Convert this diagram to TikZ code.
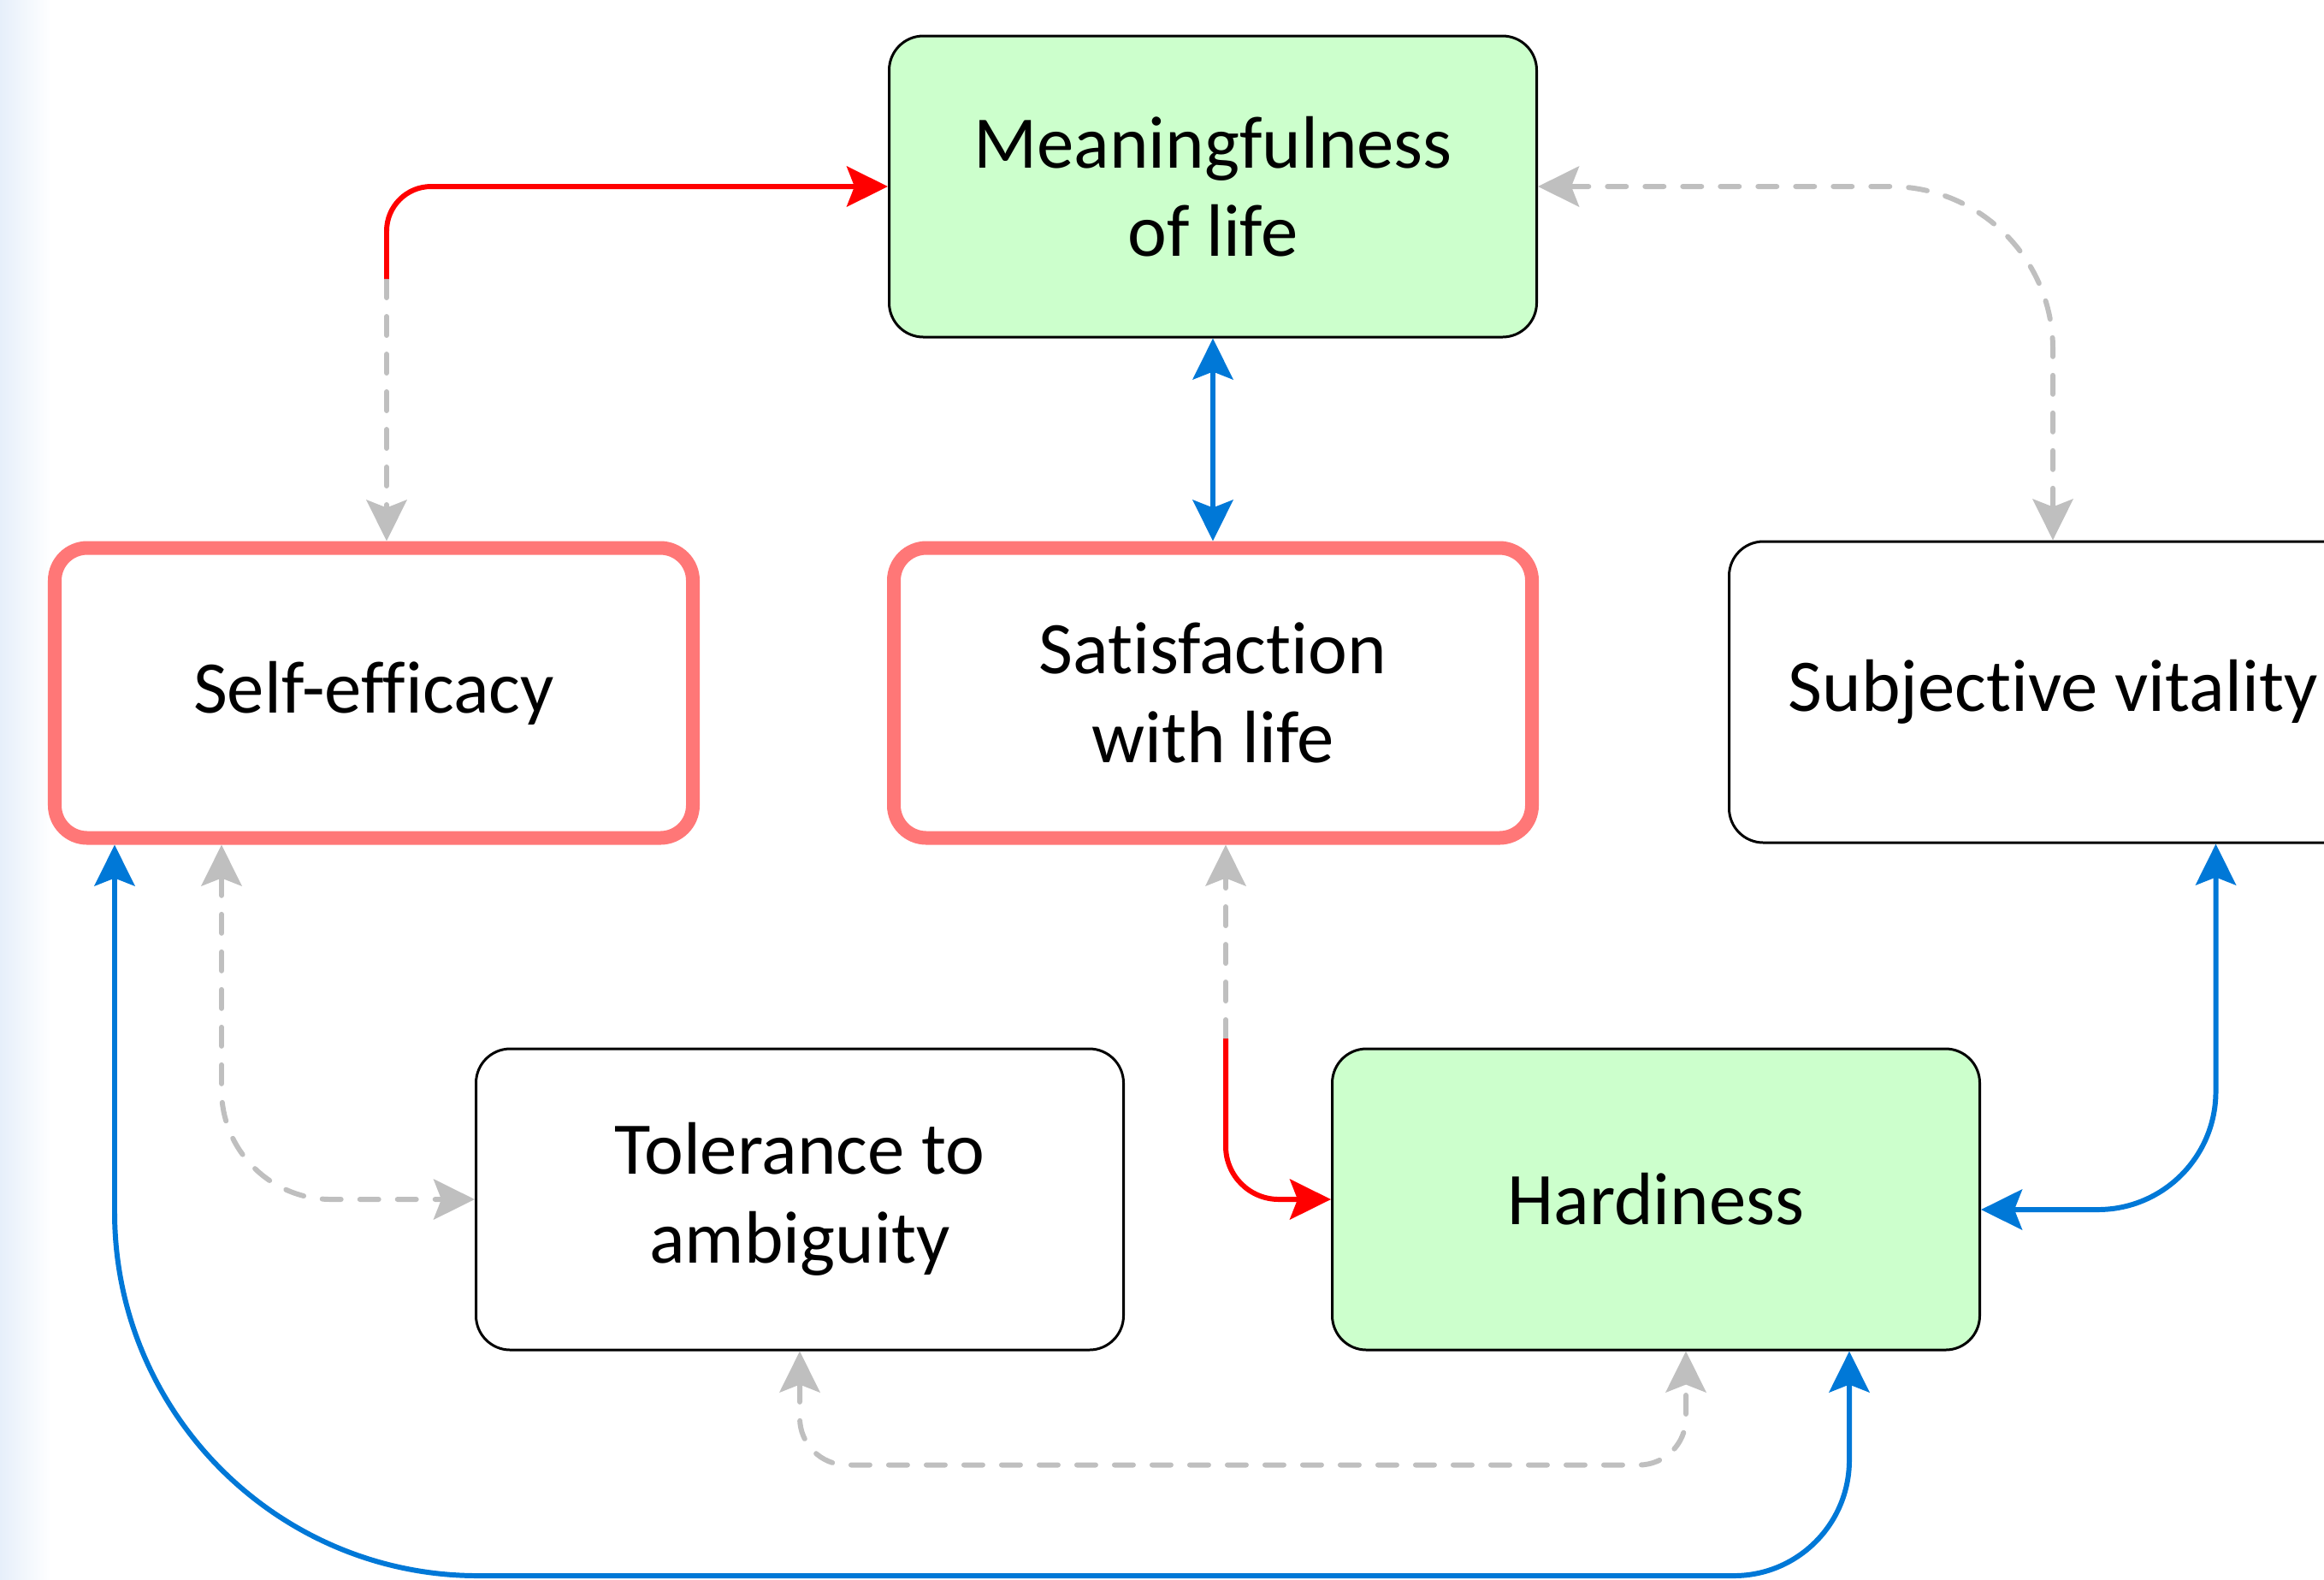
\documentclass[tikz,border=0pt]{standalone}
\usepackage{fontspec}
\setmainfont{Carlito}[RawFeature={-liga;-clig;-calt;-dlig}]
\usetikzlibrary{arrows.meta}

\definecolor{boxgreen}{HTML}{CCFFCC}
\definecolor{boxpink}{HTML}{FF7777}
\definecolor{linkblue}{HTML}{0078D7}
\definecolor{linkred}{HTML}{FF0000}
\definecolor{linkgray}{HTML}{BFBFBF}
\definecolor{edgeblue}{HTML}{E6EFFA}

\tikzset{
  box/.style={draw=black, line width=0.85pt, rounded corners=0.4cm, minimum width=7.57cm,
    minimum height=3.52cm, align=center, inner sep=0pt, font=\fontsize{24.7}{29.5}\selectfont},
  hotbox/.style={box, draw=boxpink, line width=0.16cm, minimum width=7.46cm,
    minimum height=3.39cm, rounded corners=0.38cm},
  keybox/.style={box, fill=boxgreen},
  conn/.style={line width=1.7pt, >={Stealth[length=4.8mm,width=4.7mm,inset=0.9mm]}},
  blueconn/.style={conn, draw=linkblue},
  redconn/.style={conn, draw=linkred},
  grayconn/.style={conn, draw=linkgray, dash pattern=on 0.22cm off 0.22cm, line cap=round},
}

\begin{document}
\begin{tikzpicture}
	\useasboundingbox (0,0) rectangle (27.17,-18.46);
	\clip (0,0) rectangle (27.17,-18.46);
	\shade[left color=edgeblue, right color=white] (0,0) rectangle (0.6,-18.46);

	% boxes
	\node[keybox] (mean) at (14.18,-2.18) {Meaningfulness\\of life};
	\node[hotbox] (self) at (4.37,-8.10) {Self-efficacy};
	\node[hotbox] (sat) at (14.18,-8.10) {Satisfaction\\with life};
	\node[box] (vit) at (24.00,-8.09) {Subjective vitality};
	\node[box] (tol) at (9.35,-14.02) {Tolerance to\\ambiguity};
	\node[keybox] (hard) at (19.36,-14.02) {Hardiness};

	% links
	\coordinate (redA) at (4.52,-3.26);
	\draw[grayconn,->] (redA) -- (self.north -| redA);
	\draw[redconn,->,rounded corners=0.52cm] (redA) |- (mean.west);

	\draw[grayconn,<->,rounded corners=1.9cm] (mean.east) -| (vit.north);
	\draw[blueconn,<->] (mean.south) -- (sat.north);

	\draw[grayconn,<->,rounded corners=1.28cm] ([xshift=-1.78cm]self.south) |- (tol.west);

	\coordinate (redB) at (14.33,-12.14);
	\draw[grayconn,->] (redB) -- (sat.south -| redB);
	\draw[redconn,->,rounded corners=0.62cm] (redB) |- (hard.west);

	\draw[blueconn,<->,rounded corners=1.38cm] ([xshift=1.905cm]vit.south) |- ([yshift=-0.12cm]hard.east);

	\draw[grayconn,<->,rounded corners=0.55cm] (tol.south) -- ++(0,-1.33) -| ([xshift=0.35cm]hard.south);

	\draw[blueconn,<->] ([xshift=-3.03cm]self.south) -- (1.34,-14.17)
		arc[start angle=180, end angle=270, radius=4.25cm] -- (20.27,-18.42)
		arc[start angle=270, end angle=360, radius=1.35cm] -- ([xshift=2.26cm]hard.south);
\end{tikzpicture}
\end{document}
